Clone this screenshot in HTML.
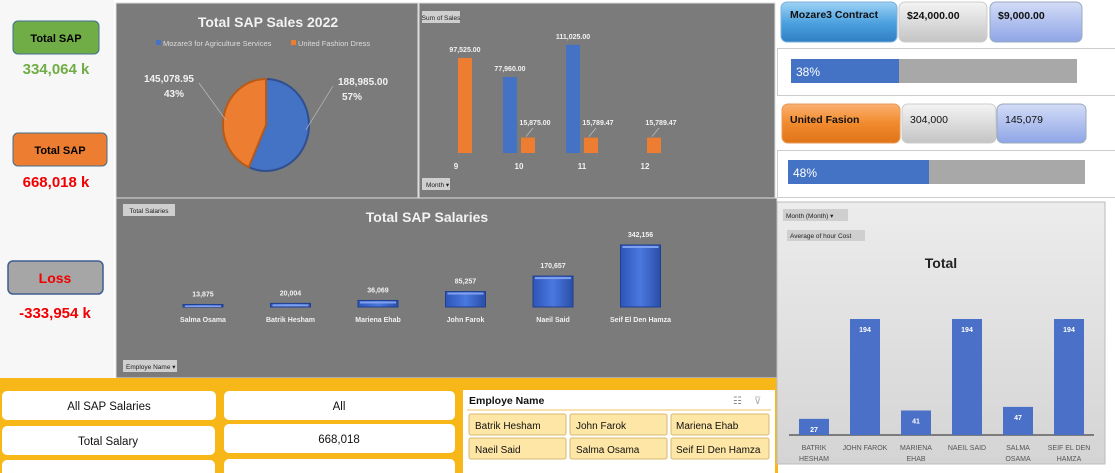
<!DOCTYPE html>
<html><head><meta charset="utf-8">
<style>
body{margin:0;width:1115px;height:473px;overflow:hidden;background:#fff;font-family:"Liberation Sans",sans-serif;}
svg{display:block}
text{font-family:"Liberation Sans",sans-serif}
</style></head>
<body>
<svg id="dash" width="1115" height="473" viewBox="0 0 1115 473">
<defs>
<linearGradient id="gBlueBtn" x1="0" y1="0" x2="0" y2="1"><stop offset="0" stop-color="#9fd3f5"/><stop offset="0.5" stop-color="#4fa3e0"/><stop offset="1" stop-color="#2e7fc4"/></linearGradient>
<linearGradient id="gGrayBtn" x1="0" y1="0" x2="0" y2="1"><stop offset="0" stop-color="#f4f4f4"/><stop offset="1" stop-color="#c4c4c4"/></linearGradient>
<linearGradient id="gLBlueBtn" x1="0" y1="0" x2="0" y2="1"><stop offset="0" stop-color="#d3dcf7"/><stop offset="1" stop-color="#8fa5e6"/></linearGradient>
<linearGradient id="gOrBtn" x1="0" y1="0" x2="0" y2="1"><stop offset="0" stop-color="#fbb070"/><stop offset="0.5" stop-color="#f18a2c"/><stop offset="1" stop-color="#e07418"/></linearGradient>
<linearGradient id="gLight" x1="0" y1="0" x2="0" y2="1"><stop offset="0" stop-color="#ececec"/><stop offset="1" stop-color="#d4d4d4"/></linearGradient>
<linearGradient id="gSalBar" x1="0" y1="0" x2="1" y2="0"><stop offset="0" stop-color="#2f55b8"/><stop offset="0.5" stop-color="#4a78e0"/><stop offset="1" stop-color="#2a4ea8"/></linearGradient>
</defs>

<!-- left KPI column -->
<rect x="0" y="0" width="114" height="378" fill="#f7f7f7"/>
<rect x="13" y="21" width="86" height="33" rx="5" fill="#70ad47" stroke="#3f6f8f"/>
<text x="56" y="42" text-anchor="middle" font-size="11" font-weight="bold" fill="#000">Total SAP</text>
<text x="56" y="74" text-anchor="middle" font-size="15" font-weight="bold" fill="#70ad47">334,064 k</text>
<rect x="13" y="133" width="94" height="33" rx="5" fill="#ed7d31" stroke="#3f6f8f"/>
<text x="60" y="154" text-anchor="middle" font-size="11" font-weight="bold" fill="#000">Total SAP</text>
<text x="56" y="187" text-anchor="middle" font-size="15" font-weight="bold" fill="#f00000">668,018 k</text>
<rect x="8" y="261" width="95" height="33" rx="5" fill="#a6a6a6" stroke="#3f5f8f" stroke-width="1.5"/>
<text x="55" y="283" text-anchor="middle" font-size="14" font-weight="bold" fill="#f00000">Loss</text>
<text x="55" y="318" text-anchor="middle" font-size="15" font-weight="bold" fill="#f00000">-333,954 k</text>

<!-- pie panel -->
<g>
<rect x="116" y="3" width="302" height="195" fill="#7b7b7b" stroke="#ddd"/>
<text x="268" y="27" text-anchor="middle" font-size="14" font-weight="bold" fill="#f2f2f2">Total SAP Sales 2022</text>
<rect x="156" y="40" width="5" height="5" fill="#4472c4"/><text x="163" y="46" font-size="7.5" fill="#dcdcdc">Mozare3 for Agriculture Services</text>
<rect x="291" y="40" width="5" height="5" fill="#ed7d31"/><text x="298" y="46" font-size="7.5" fill="#dcdcdc">United Fashion Dress</text>
<g id="pie"></g>
</g>

<!-- sales bar panel -->
<g>
<rect x="419" y="3" width="356" height="195" fill="#7b7b7b" stroke="#ddd"/>
<rect x="422" y="11" width="38" height="12" fill="#cfcfcf"/>
<text x="441" y="20" text-anchor="middle" font-size="6.5" fill="#222">Sum of Sales</text>
<rect x="422" y="178" width="28" height="12" fill="#cfcfcf"/>
<text x="426" y="187" font-size="6.5" fill="#222">Month ▾</text>
<g id="sales"></g>
</g>

<!-- right top KPI -->
<rect x="781" y="2" width="116" height="40" rx="6" fill="url(#gBlueBtn)" stroke="#7fb0d8"/>
<text x="790" y="18" font-size="10.5" font-weight="bold" fill="#111">Mozare3 Contract</text>
<rect x="899" y="2" width="88" height="40" rx="6" fill="url(#gGrayBtn)" stroke="#ccc"/>
<text x="907" y="19" font-size="10.5" font-weight="bold" fill="#111">$24,000.00</text>
<rect x="990" y="2" width="92" height="40" rx="6" fill="url(#gLBlueBtn)" stroke="#9ab"/>
<text x="998" y="19" font-size="10.5" font-weight="bold" fill="#111">$9,000.00</text>
<rect x="777.5" y="48.5" width="340" height="47" fill="#fff" stroke="#ccc"/>
<rect x="791" y="59" width="286" height="24" fill="#a8a8a8"/>
<rect x="791" y="59" width="108" height="24" fill="#4472c4"/>
<text x="796" y="76" font-size="12" fill="#fff">38%</text>

<rect x="782" y="104" width="118" height="39" rx="6" fill="url(#gOrBtn)" stroke="#e59a5a"/>
<text x="790" y="123" font-size="10.5" font-weight="bold" fill="#111">United Fasion</text>
<rect x="902" y="104" width="94" height="39" rx="6" fill="url(#gGrayBtn)" stroke="#ccc"/>
<text x="910" y="123" font-size="10.5" fill="#111">304,000</text>
<rect x="997" y="104" width="89" height="39" rx="6" fill="url(#gLBlueBtn)" stroke="#9ab"/>
<text x="1005" y="123" font-size="10.5" fill="#111">145,079</text>
<rect x="777.5" y="150.5" width="344" height="47" fill="#fff" stroke="#ccc"/>
<rect x="788" y="160" width="297" height="24" fill="#a8a8a8"/>
<rect x="788" y="160" width="141" height="24" fill="#4472c4"/>
<text x="793" y="177" font-size="12" fill="#fff">48%</text>

<!-- salaries panel -->
<g>
<rect x="116" y="198" width="661" height="180" fill="#7b7b7b" stroke="#ddd"/>
<rect x="123" y="204" width="52" height="12" fill="#cfcfcf"/>
<text x="149" y="213" text-anchor="middle" font-size="6.5" fill="#222">Total Salaries</text>
<text x="427" y="222" text-anchor="middle" font-size="14" font-weight="bold" fill="#f2f2f2">Total SAP Salaries</text>
<rect x="123" y="360" width="54" height="12" fill="#cfcfcf"/>
<text x="126" y="369" font-size="6.5" fill="#222">Employe Name ▾</text>
<g id="sal"></g>
</g>

<!-- bottom yellow band -->
<rect x="0" y="378" width="778" height="95" fill="#f7b718"/>
<rect x="2" y="391" width="214" height="29" rx="5" fill="#fff"/>
<text x="109" y="410" text-anchor="middle" font-size="11.5" fill="#111">All SAP Salaries</text>
<rect x="224" y="391" width="231" height="29" rx="5" fill="#fff"/>
<text x="339" y="410" text-anchor="middle" font-size="11.5" fill="#111">All</text>
<rect x="2" y="426" width="213" height="29" rx="5" fill="#fff"/>
<text x="108" y="445" text-anchor="middle" font-size="11.5" fill="#111">Total Salary</text>
<rect x="224" y="424" width="231" height="29" rx="5" fill="#fff"/>
<text x="339" y="443" text-anchor="middle" font-size="11.5" fill="#111">668,018</text>
<rect x="2" y="460" width="213" height="20" rx="5" fill="#fff"/>
<rect x="224" y="459" width="231" height="20" rx="5" fill="#fff"/>

<g>
<rect x="463" y="390" width="312" height="83" fill="#fff"/>
<text x="469" y="404" font-size="10.5" font-weight="bold" fill="#111">Employe Name</text>
<text x="733" y="404" font-size="10" fill="#888">☷</text>
<text x="754" y="404" font-size="10" fill="#aaa">⊽</text>
<line x1="467" y1="410" x2="771" y2="410" stroke="#f0c060"/>
<g font-size="10" fill="#111">
<rect x="469" y="414" width="97" height="21" rx="2" fill="#fde6a6" stroke="#d8b870"/><text x="475" y="429">Batrik Hesham</text>
<rect x="570" y="414" width="97" height="21" rx="2" fill="#fde6a6" stroke="#d8b870"/><text x="576" y="429">John Farok</text>
<rect x="671" y="414" width="98" height="21" rx="2" fill="#fde6a6" stroke="#d8b870"/><text x="676" y="429">Mariena Ehab</text>
<rect x="469" y="438" width="97" height="21" rx="2" fill="#fde6a6" stroke="#d8b870"/><text x="475" y="453">Naeil Said</text>
<rect x="570" y="438" width="97" height="21" rx="2" fill="#fde6a6" stroke="#d8b870"/><text x="576" y="453">Salma Osama</text>
<rect x="671" y="438" width="98" height="21" rx="2" fill="#fde6a6" stroke="#d8b870"/><text x="676" y="453">Seif El Den Hamza</text>
</g>
</g>

<!-- hour cost panel -->
<g>
<rect x="777" y="202" width="328" height="262" fill="url(#gLight)" stroke="#bbb"/>
<rect x="783" y="209" width="65" height="12" fill="#cfcfcf"/>
<text x="786" y="218" font-size="6.5" fill="#222">Month (Month)  ▾</text>
<rect x="787" y="230" width="78" height="11" fill="#cfcfcf"/>
<text x="790" y="238" font-size="6.5" fill="#222">Average of hour Cost</text>
<text x="941" y="268" text-anchor="middle" font-size="14" font-weight="bold" fill="#222">Total</text>
<g id="hour"></g>
</g>

<script>
// ---- pie data ----
const pieLabels = ["Mozare3 for Agriculture Services","United Fashion Dress"];
const pieValues = [188985.00, 145078.95];
const pieColors = ["#4472c4","#ed7d31"];
// ---- sales bar data ----
const salesMonths = ["9","10","11","12"];
const salesMozare3 = [null, 77960.00, 111025.00, null];
const salesUnited = [97525.00, 15875.00, 15789.47, 15789.47];
// ---- salaries data ----
const salaryNames = ["Salma Osama","Batrik Hesham","Mariena Ehab","John Farok","Naeil Said","Seif El Den Hamza"];
const salaryValues = [13875, 20004, 36069, 85257, 170657, 342156];
// ---- hour cost data ----
const hourNames = [["BATRIK","HESHAM"],["JOHN FAROK"],["MARIENA","EHAB"],["NAEIL SAID"],["SALMA","OSAMA"],["SEIF EL DEN","HAMZA"]];
const hourValues = [27, 194, 41, 194, 47, 194];

const NS = "http://www.w3.org/2000/svg";
function mk(tag, attrs, parent, txt){const e=document.createElementNS(NS,tag);for(const k in attrs)e.setAttribute(k,attrs[k]);if(txt!==undefined)e.textContent=txt;parent.appendChild(e);return e;}
const fmt2 = v => v.toLocaleString("en-US",{minimumFractionDigits:2,maximumFractionDigits:2});
const fmt0 = v => Math.round(v).toLocaleString("en-US");

// pie
(function(){
  const g=document.getElementById("pie");
  const cx=266, cy=125, rx=43, ry=46;
  const total=pieValues.reduce((a,b)=>a+b,0);
  let a0=0;
  pieValues.forEach((v,i)=>{
    const a1=a0+v/total*2*Math.PI;
    const x0=cx+rx*Math.sin(a0), y0=cy-ry*Math.cos(a0), x1=cx+rx*Math.sin(a1), y1=cy-ry*Math.cos(a1);
    const large=(a1-a0)>Math.PI?1:0;
    const p=mk("path",{d:`M${cx},${cy} L${x0},${y0} A${rx},${ry} 0 ${large} 1 ${x1},${y1} Z`,fill:pieColors[i],stroke:i?"#b85a18":"#2f4f8f","stroke-width":2},g);
    
    
    const mid=(a0+a1)/2, right=Math.sin(mid)>0;
    const lx=right?cx+72:cx-72, ly=right?cy-34:cy-37;
    mk("polyline",{points:`${cx+rx*Math.sin(mid)*0.95},${cy-ry*Math.cos(mid)*0.5} ${right?lx-5:lx+5},${ly-5}`,fill:"none",stroke:"#bbb","stroke-width":0.7},g);
    const pct=Math.round(v/total*100)+"%";
    const t=mk("text",{x:lx,y:ly-6,"font-size":10,"font-weight":"bold",fill:"#f2f2f2","text-anchor":right?"start":"end"},g,fmt2(v));
    
    
    mk("text",{x:right?lx+14:lx-20,y:ly+9,"font-size":10,"font-weight":"bold",fill:"#f2f2f2","text-anchor":"middle"},g,pct);
    a0=a1;
  });
})();

// sales bars
(function(){
  const g=document.getElementById("sales");
  const base=153, scale=95/97525;
  const x=i=>456+i*63;
  const y=v=>base-v*scale;
  salesMonths.forEach((m,i)=>{
    const c=x(i);
    const t=mk("text",{x:c,y:169,"font-size":8,"font-weight":"bold",fill:"#f2f2f2","text-anchor":"middle"},g,m);
    
    
    [[salesMozare3[i],"#4472c4",c-16],[salesUnited[i],"#ed7d31",c+2]].forEach(([v,col,bx])=>{
      if(v==null)return;
      const r=mk("rect",{x:bx,y:y(v),width:14,height:base-y(v),fill:col},g);
      
      
      const small=(base-y(v))<30;
      const ly=small?125:y(v)-6;
      const lx=small?bx+14:bx+7;
      if(small) mk("line",{x1:bx+5,y1:y(v)-1,x2:bx+12,y2:ly+3,stroke:"#ccc","stroke-width":0.6},g);
      const l=mk("text",{x:lx,y:ly,"font-size":7,"font-weight":"bold",fill:"#f2f2f2","text-anchor":"middle"},g,fmt2(v));
      
      
    });
  });
})();

// salaries
(function(){
  const g=document.getElementById("sal");
  const base=307, scale=62/342156;
  const x=i=>203+i*87.5;
  salaryNames.forEach((n,i)=>{
    const c=x(i), h=Math.max(2,salaryValues[i]*scale);
    const r=mk("rect",{x:c-20,y:base-h,width:40,height:h,fill:"url(#gSalBar)",stroke:"#1f3f8f","stroke-width":1},g);
    
    
    mk("rect",{x:c-18,y:base-h+1,width:36,height:Math.min(2,h-1),fill:"#7fa0ee"},g);
    const l=mk("text",{x:c,y:base-h-8,"font-size":7,"font-weight":"bold",fill:"#f2f2f2","text-anchor":"middle"},g,fmt0(salaryValues[i]));
    
    
    const t=mk("text",{x:c,y:322,"font-size":7,"font-weight":"bold",fill:"#f2f2f2","text-anchor":"middle"},g,n);
    
    
  });
})();

// hour cost
(function(){
  const g=document.getElementById("hour");
  const base=435, scale=116/194;
  const x=i=>814+i*51;
  mk("line",{x1:789,y1:base,x2:1094,y2:base,stroke:"#222","stroke-width":1},g);
  hourNames.forEach((n,i)=>{
    const c=x(i), h=hourValues[i]*scale;
    const r=mk("rect",{x:c-15,y:base-h,width:30,height:h,fill:"#4a70c8"},g);
    
    
    const l=mk("text",{x:c,y:base-h+13,"font-size":7,"font-weight":"bold",fill:"#fff","text-anchor":"middle"},g,String(hourValues[i]));
    
    
    n.forEach((line,k)=>{
      const t=mk("text",{x:c,y:450+k*11,"font-size":7,fill:"#555","text-anchor":"middle"},g,line);
      
      
    });
  });
})();
</script>
</svg>
</body></html>
